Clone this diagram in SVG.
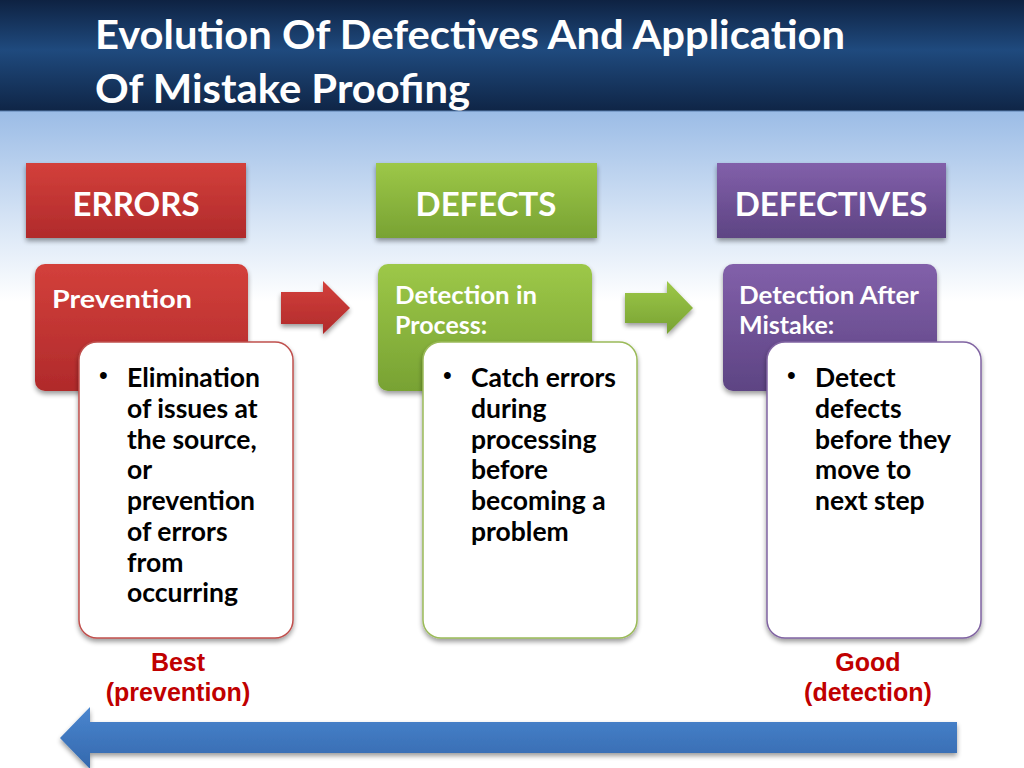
<svg xmlns="http://www.w3.org/2000/svg" width="1024" height="768" viewBox="0 0 1024 768">
<defs>
<linearGradient id="hdr" x1="0" y1="0" x2="0" y2="1">
<stop offset="0" stop-color="#0e2242"/>
<stop offset="0.45" stop-color="#1f4a7e"/>
<stop offset="1" stop-color="#0f2546"/>
</linearGradient>
<linearGradient id="bg" x1="0" y1="0" x2="0" y2="1">
<stop offset="0" stop-color="#9bbce6"/>
<stop offset="0.6" stop-color="#d9e6f6"/>
<stop offset="1" stop-color="#ffffff"/>
</linearGradient>
<linearGradient id="red" x1="0" y1="0" x2="0" y2="1">
<stop offset="0" stop-color="#d3403b"/>
<stop offset="1" stop-color="#b02a2b"/>
</linearGradient>
<linearGradient id="green" x1="0" y1="0" x2="0" y2="1">
<stop offset="0" stop-color="#9dc848"/>
<stop offset="1" stop-color="#78a233"/>
</linearGradient>
<linearGradient id="purple" x1="0" y1="0" x2="0" y2="1">
<stop offset="0" stop-color="#8260aa"/>
<stop offset="1" stop-color="#5d4483"/>
</linearGradient>
<linearGradient id="blue" x1="0" y1="0" x2="0" y2="1">
<stop offset="0" stop-color="#4a86cf"/>
<stop offset="1" stop-color="#3468ad"/>
</linearGradient>
<filter id="sh" x="-10%" y="-10%" width="120%" height="125%">
<feGaussianBlur in="SourceAlpha" stdDeviation="2.5"/>
<feOffset dx="0" dy="3" result="b"/>
<feComponentTransfer><feFuncA type="linear" slope="0.4"/></feComponentTransfer>
<feMerge><feMergeNode/><feMergeNode in="SourceGraphic"/></feMerge>
</filter>
</defs>
<style>
.title{font-family:Lato,"Liberation Sans",sans-serif;font-weight:bold;font-size:41px;fill:#ffffff}
.hd{font-family:Lato,"Liberation Sans",sans-serif;font-weight:bold;font-size:33px;fill:#ffffff;text-anchor:middle}
.sub{font-family:Lato,"Liberation Sans",sans-serif;font-weight:bold;font-size:25px;fill:#ffffff}
.body{font-family:Lato,"Liberation Sans",sans-serif;font-weight:bold;font-size:26.5px;fill:#000000}
.bul{font-family:"Liberation Sans",sans-serif;font-size:25px;fill:#000000}
.lbl{font-family:"Liberation Sans",Arial,sans-serif;font-weight:bold;font-size:25px;fill:#c00000;text-anchor:middle}
.card{fill:#ffffff;stroke-width:1.5}
</style>
<rect x="0" y="0" width="1024" height="768" fill="#ffffff"/>
<rect x="0" y="111" width="1024" height="190" fill="url(#bg)"/>
<rect x="0" y="0" width="1024" height="111" fill="url(#hdr)"/>
<line x1="0" y1="111" x2="1024" y2="111" stroke="#5a7fae" stroke-width="1"/>
<text class="title" x="95" y="49" textLength="750" lengthAdjust="spacingAndGlyphs">Evolution Of Defectives And Application</text>
<text class="title" x="95" y="103" textLength="375" lengthAdjust="spacingAndGlyphs">Of Mistake Proofing</text>

<g id="errors">
<rect x="26" y="163" width="220" height="75" fill="url(#red)" filter="url(#sh)"/>
<text class="hd" x="136" y="216">ERRORS</text>
</g>
<g id="defects">
<rect x="376" y="163" width="221" height="75" fill="url(#green)" filter="url(#sh)"/>
<text class="hd" x="486" y="216">DEFECTS</text>
</g>
<g id="defectives">
<rect x="717" y="163" width="229" height="75" fill="url(#purple)" filter="url(#sh)"/>
<text class="hd" x="831" y="216">DEFECTIVES</text>
</g>

<g id="prevention">
<rect x="35" y="264" width="213" height="127" rx="10" fill="url(#red)" filter="url(#sh)"/>
<text class="sub" x="52" y="308" font-size="27" textLength="140" lengthAdjust="spacingAndGlyphs">Prevention</text>
<rect class="card" x="79" y="342" width="214" height="296" rx="18" stroke="#c0504d" filter="url(#sh)"/>
<text class="bul" x="99" y="384">•</text>
<text class="body" x="127" y="387">Elimination</text>
<text class="body" x="127" y="418">of issues at</text>
<text class="body" x="127" y="449">the source,</text>
<text class="body" x="127" y="479">or</text>
<text class="body" x="127" y="510">prevention</text>
<text class="body" x="127" y="541">of errors</text>
<text class="body" x="127" y="572">from</text>
<text class="body" x="127" y="602">occurring</text>
</g>

<g id="inprocess">
<rect x="378" y="264" width="214" height="127" rx="10" fill="url(#green)" filter="url(#sh)"/>
<text class="sub" x="395" y="304" textLength="142" lengthAdjust="spacingAndGlyphs">Detection in</text>
<text class="sub" x="395" y="334">Process:</text>
<rect class="card" x="423" y="342" width="214" height="296" rx="18" stroke="#9bbb59" filter="url(#sh)"/>
<text class="bul" x="443" y="384">•</text>
<text class="body" x="471" y="387">Catch errors</text>
<text class="body" x="471" y="418">during</text>
<text class="body" x="471" y="449">processing</text>
<text class="body" x="471" y="479">before</text>
<text class="body" x="471" y="510">becoming a</text>
<text class="body" x="471" y="541">problem</text>
</g>

<g id="aftermistake">
<rect x="723" y="264" width="214" height="127" rx="10" fill="url(#purple)" filter="url(#sh)"/>
<text class="sub" x="739" y="304" textLength="180" lengthAdjust="spacingAndGlyphs">Detection After</text>
<text class="sub" x="739" y="334">Mistake:</text>
<rect class="card" x="767" y="342" width="214" height="296" rx="18" stroke="#8064a2" filter="url(#sh)"/>
<text class="bul" x="787" y="384">•</text>
<text class="body" x="815" y="387">Detect</text>
<text class="body" x="815" y="418">defects</text>
<text class="body" x="815" y="449">before they</text>
<text class="body" x="815" y="479">move to</text>
<text class="body" x="815" y="510">next step</text>
</g>

<g id="connectors">
<path d="M281,292 H323 V281 L350,308 L323,334 V324 H281 Z" fill="url(#red)" filter="url(#sh)"/>
<path d="M625,293 H667 V281 L693,308 L667,334 V323 H625 Z" fill="url(#green)" filter="url(#sh)"/>
<path d="M957,722 H90 V707 L60,738 L90,769 V753 H957 Z" fill="url(#blue)" filter="url(#sh)"/>
</g>

<g id="labels">
<text class="lbl" x="178" y="671">Best</text>
<text class="lbl" x="178" y="701">(prevention)</text>
<text class="lbl" x="868" y="671">Good</text>
<text class="lbl" x="868" y="701">(detection)</text>
</g>
</svg>
